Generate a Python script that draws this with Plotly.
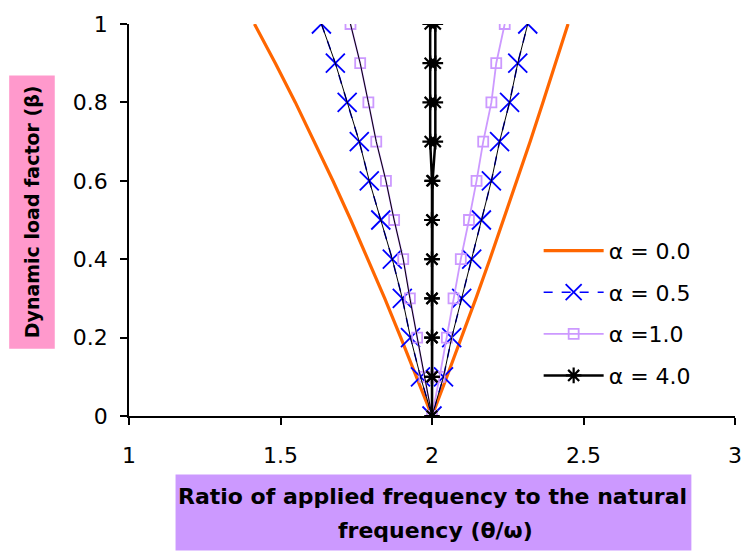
import plotly.graph_objects as go

# ---- data ----
beta = [0.0, 0.1, 0.2, 0.3, 0.4, 0.5, 0.6, 0.7, 0.8, 0.9, 1.0]

a00_left = [2.000, 1.949, 1.897, 1.844, 1.789, 1.732, 1.673, 1.612, 1.549, 1.483, 1.414]
a00_right = [2.000, 2.049, 2.098, 2.145, 2.191, 2.236, 2.280, 2.324, 2.366, 2.408, 2.449]

a05_left = [2.000, 1.962, 1.929, 1.902, 1.869, 1.831, 1.793, 1.760, 1.720, 1.681, 1.635]
a05_right = [2.000, 2.038, 2.065, 2.098, 2.131, 2.163, 2.196, 2.223, 2.256, 2.283, 2.316]

a10_left = [2.000, 1.975, 1.951, 1.927, 1.905, 1.875, 1.848, 1.816, 1.790, 1.763, 1.731]
a10_right = [2.000, 2.025, 2.049, 2.071, 2.095, 2.122, 2.147, 2.169, 2.196, 2.212, 2.240]

a40_left = [2.000, 2.000, 2.000, 2.000, 2.000, 2.000, 2.000, 1.994, 1.994, 1.994, 1.994]
a40_right = [2.000, 2.000, 2.000, 2.000, 2.000, 2.000, 2.002, 2.011, 2.011, 2.011, 2.011]

labels = ["α = 0.0", "α = 0.5", "α =1.0", "α = 4.0"]
x_ticks = [1, 1.5, 2, 2.5, 3]
y_ticks = [0, 0.2, 0.4, 0.6, 0.8, 1]


def vee(left, right):
    xs = list(reversed(left)) + right[1:]
    ys = list(reversed(beta)) + beta[1:]
    return xs, ys


def branch(vals):
    return list(vals), list(beta)


fig = go.Figure()

# alpha = 0.0
x, y = vee(a00_left, a00_right)
fig.add_trace(go.Scatter(x=x, y=y, mode="lines", name=labels[0], legendgroup="g0",
                         line=dict(color="#FF6600", width=3.2)))

# alpha = 0.5
x, y = vee(a05_left, a05_right)
fig.add_trace(go.Scatter(x=x, y=y, mode="lines+markers", name=labels[1], legendgroup="g1",
                         line=dict(color="#0000FF", width=1.5, dash="dash"),
                         marker=dict(symbol="x-thin-open", size=19, color="#0000FF",
                                     line=dict(color="#0000FF", width=1.8))))

# alpha = 1.0
x, y = vee(a10_left, a10_right)
fig.add_trace(go.Scatter(x=x, y=y, mode="lines+markers", name=labels[2], legendgroup="g2",
                         line=dict(color="#CC99FF", width=1.8),
                         marker=dict(symbol="square-open", size=10, color="#CC99FF",
                                     line=dict(color="#CC99FF", width=1.8))))

# thin black companion curves
for vals in (a05_left, a05_right, a10_left):
    bx, by = branch(vals)
    fig.add_trace(go.Scatter(x=bx, y=by, mode="lines", showlegend=False, hoverinfo="skip",
                             legendgroup="aux", line=dict(color="black", width=1)))

# alpha = 4.0
x, y = vee(a40_left, a40_right)
fig.add_trace(go.Scatter(x=x, y=y, mode="lines+markers", name=labels[3], legendgroup="g3",
                         line=dict(color="black", width=2.5),
                         marker=dict(symbol="asterisk-open", size=13, color="black",
                                     line=dict(color="black", width=2.2))))

axis_font = dict(family="DejaVu Sans", size=22, color="black")

fig.update_xaxes(range=[1, 3], tickvals=x_ticks, ticktext=[str(v) for v in x_ticks],
                 showline=True, linecolor="black", linewidth=1.5,
                 ticks="outside", ticklen=7, tickwidth=1.5, tickcolor="black",
                 showgrid=False, zeroline=False, tickfont=axis_font,
                 ticklabelstandoff=12)
fig.update_yaxes(range=[0, 1], tickvals=y_ticks, ticktext=[("%g" % v) for v in y_ticks],
                 showline=True, linecolor="black", linewidth=1.5,
                 ticks="outside", ticklen=7, tickwidth=1.5, tickcolor="black",
                 showgrid=False, zeroline=False, tickfont=axis_font,
                 ticklabelstandoff=8)

# axis title boxes
fig.add_shape(type="rect", xref="paper", yref="paper",
              x0=-0.1977, x1=-0.1225, y0=0.1717, y1=0.8687,
              fillcolor="#FF99CC", line=dict(width=0), layer="below")
fig.add_shape(type="rect", xref="paper", yref="paper",
              x0=0.0768, x1=0.928, y0=-0.3434, y1=-0.149,
              fillcolor="#CC99FF", line=dict(width=0), layer="below")

title_font_y = dict(family="DejaVu Sans", size=19, color="black")
title_font_x = dict(family="DejaVu Sans", size=22, color="black")
fig.add_annotation(xref="paper", yref="paper", x=-0.160, y=0.52,
                   text="<b>Dynamic load factor (β)</b>", textangle=-90,
                   showarrow=False, font=title_font_y, xanchor="center", yanchor="middle")
fig.add_annotation(xref="paper", yref="paper", x=0.5, y=-0.2045,
                   text="<b>Ratio of applied frequency to the natural</b>",
                   showarrow=False, font=title_font_x, xanchor="center", yanchor="middle")
fig.add_annotation(xref="paper", yref="paper", x=0.505, y=-0.293,
                   text="<b>frequency (θ/ω)</b>",
                   showarrow=False, font=title_font_x, xanchor="center", yanchor="middle")

fig.update_layout(
    width=754, height=554, autosize=False,
    margin=dict(l=129, r=13, t=20, b=138),
    paper_bgcolor="white", plot_bgcolor="white",
    showlegend=True,
    legend=dict(x=0.676, y=0.475, xanchor="left", yanchor="top",
                font=dict(family="DejaVu Sans", size=22, color="black"),
                bgcolor="rgba(0,0,0,0)", itemwidth=60, tracegroupgap=10,
                traceorder="grouped"),
)

fig.write_html("out.html")
